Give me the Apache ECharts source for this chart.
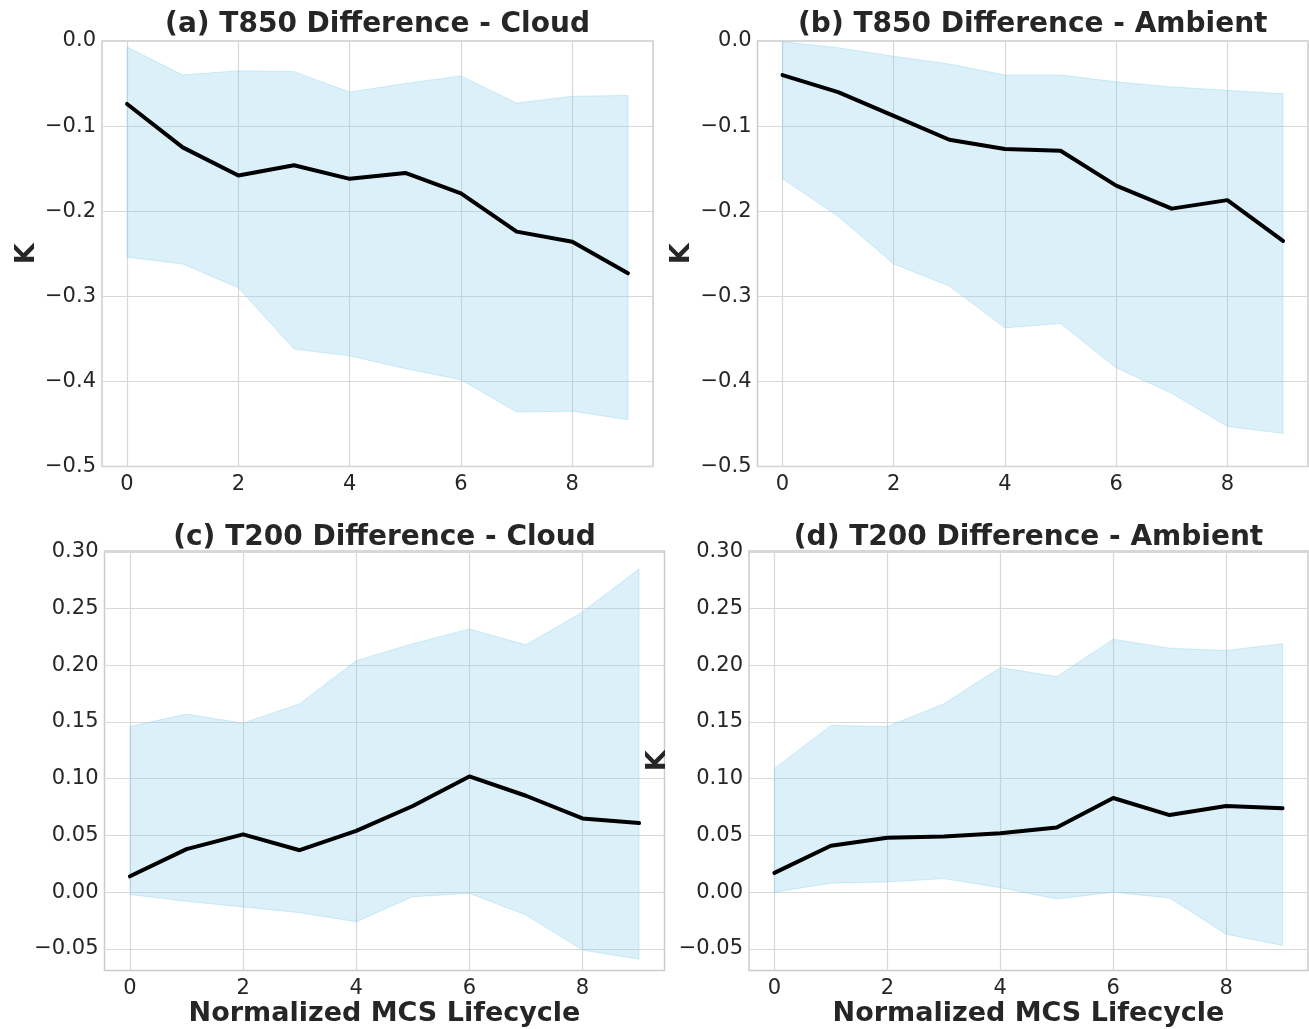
<!DOCTYPE html>
<html>
<head>
<meta charset="utf-8">
<script src="https://cdn.jsdelivr.net/npm/echarts@6/dist/echarts.min.js"></script>
<style>
  html, body { margin: 0; padding: 0; background: #ffffff; }
  #chart { width: 1309px; height: 1029px; }
</style>
</head>
<body>
<div id="chart"></div>
<script>
// Normalized lifecycle stage of the mesoscale convective systems
const lifecycle = [0, 1, 2, 3, 4, 5, 6, 7, 8, 9];
const xTicks = [0, 2, 4, 6, 8];

// (a) T850 difference inside the cloud shield
const t850CloudMean  = [-0.074, -0.125, -0.158, -0.146, -0.162, -0.155, -0.179, -0.224, -0.236, -0.273];
const t850CloudUpper = [-0.007, -0.040, -0.035, -0.036, -0.060, -0.050, -0.041, -0.073, -0.065, -0.064];
const t850CloudLower = [-0.254, -0.262, -0.290, -0.362, -0.370, -0.385, -0.398, -0.436, -0.435, -0.445];

// (b) T850 difference in the ambient environment
const t850AmbMean  = [-0.040, -0.060, -0.088, -0.116, -0.127, -0.129, -0.170, -0.197, -0.187, -0.235];
const t850AmbUpper = [-0.001, -0.008, -0.018, -0.027, -0.040, -0.040, -0.048, -0.054, -0.058, -0.062];
const t850AmbLower = [-0.162, -0.206, -0.262, -0.288, -0.337, -0.332, -0.384, -0.414, -0.453, -0.461];

// (c) T200 difference inside the cloud shield
const t200CloudMean  = [0.014, 0.038, 0.051, 0.037, 0.054, 0.076, 0.102, 0.085, 0.065, 0.061];
const t200CloudUpper = [0.146, 0.157, 0.149, 0.166, 0.204, 0.219, 0.232, 0.218, 0.247, 0.285];
const t200CloudLower = [-0.002, -0.008, -0.013, -0.018, -0.026, -0.004, -0.001, -0.020, -0.051, -0.059];

// (d) T200 difference in the ambient environment
const t200AmbMean  = [0.017, 0.041, 0.048, 0.049, 0.052, 0.057, 0.083, 0.068, 0.076, 0.074];
const t200AmbUpper = [0.109, 0.147, 0.146, 0.166, 0.198, 0.190, 0.223, 0.215, 0.213, 0.219];
const t200AmbLower = [0.000, 0.008, 0.009, 0.012, 0.004, -0.006, 0.000, -0.005, -0.037, -0.047];

// Tick values of the two kinds of vertical axes
const t850Ticks = [0.0, -0.1, -0.2, -0.3, -0.4, -0.5];
const t200Ticks = [-0.05, 0.00, 0.05, 0.10, 0.15, 0.20, 0.25, 0.30];

const FONT = "'DejaVu Sans', sans-serif";
const TEXT = '#262626';
const FILL = 'rgba(135, 206, 235, 0.3)';

const panels = [
  { title: '(a) T850 Difference - Cloud',   mean: t850CloudMean, upper: t850CloudUpper, lower: t850CloudLower,
    grid: { left: 102, top: 41, width: 551, height: 425.5 }, titleY: 24.5,
    ymin: -0.5, ymax: 0.0, ticks: t850Ticks, dec: 1, yname: 'K', xname: '' },
  { title: '(b) T850 Difference - Ambient', mean: t850AmbMean, upper: t850AmbUpper, lower: t850AmbLower,
    grid: { left: 757.5, top: 41, width: 550.5, height: 425.5 }, titleY: 24.5,
    ymin: -0.5, ymax: 0.0, ticks: t850Ticks, dec: 1, yname: 'K', xname: '' },
  { title: '(c) T200 Difference - Cloud',   mean: t200CloudMean, upper: t200CloudUpper, lower: t200CloudLower,
    grid: { left: 104.5, top: 551, width: 560, height: 419.5 }, titleY: 537.5,
    ymin: -0.069, ymax: 0.3007, ticks: t200Ticks, dec: 2, yname: '', xname: 'Normalized MCS Lifecycle' },
  { title: '(d) T200 Difference - Ambient', mean: t200AmbMean, upper: t200AmbUpper, lower: t200AmbLower,
    grid: { left: 749, top: 551, width: 559, height: 419.5 }, titleY: 537.5,
    ymin: -0.069, ymax: 0.3007, ticks: t200Ticks, dec: 2, yname: 'K', xname: 'Normalized MCS Lifecycle' }
];

function fmt(v, dec) {
  const s = Math.abs(v).toFixed(dec);
  return (v < -1e-9 ? '\u2212' : '') + s;
}

const grids = [], xAxes = [], yAxes = [], series = [], graphics = [];

panels.forEach((p, k) => {
  grids.push(Object.assign({
    show: true, borderColor: '#cccccc', borderWidth: 1.5, backgroundColor: 'transparent'
  }, p.grid));

  xAxes.push({
    type: 'value', gridIndex: k, min: -0.45, max: 9.45,
    axisLine: { show: false }, axisTick: { show: false, customValues: xTicks },
    axisLabel: { customValues: xTicks, color: TEXT, fontFamily: FONT, fontSize: 21, margin: 8,
                 formatter: v => String(v) },
    splitLine: { show: true, lineStyle: { color: '#d8d8d8', width: 1.2 } },
    name: p.xname, nameLocation: 'middle', nameGap: 30,
    nameTextStyle: { color: TEXT, fontFamily: FONT, fontSize: 27, fontWeight: 'bold' }
  });

  yAxes.push({
    type: 'value', gridIndex: k, min: p.ymin, max: p.ymax,
    axisLine: { show: false }, axisTick: { show: false, customValues: p.ticks },
    axisLabel: { customValues: p.ticks, color: TEXT, fontFamily: FONT, fontSize: 21, margin: 6,
                 formatter: v => fmt(v, p.dec) },
    splitLine: { show: true, lineStyle: { color: '#d8d8d8', width: 1.2 } },
    name: p.yname, nameLocation: 'middle', nameGap: p.dec === 1 ? 62 : 78, nameRotate: 90,
    nameTextStyle: { color: TEXT, fontFamily: FONT, fontSize: 27, fontWeight: 'bold' }
  });

  // shaded spread between lower and upper bounds
  series.push({
    type: 'custom', xAxisIndex: k, yAxisIndex: k, z: 2, silent: true,
    data: lifecycle.map((x, i) => [x, p.upper[i], p.lower[i]]),
    encode: { x: 0, y: [1, 2] },
    renderItem: (params, api) => {
      if (params.dataIndex !== 0) return { type: 'group', children: [] };
      const pts = [];
      lifecycle.forEach((x, i) => pts.push(api.coord([x, p.upper[i]])));
      for (let i = lifecycle.length - 1; i >= 0; i--) pts.push(api.coord([lifecycle[i], p.lower[i]]));
      return {
        type: 'polygon',
        shape: { points: pts },
        style: { fill: FILL, stroke: 'rgba(135, 206, 235, 0.35)', lineWidth: 1 }
      };
    }
  });

  // mean difference
  series.push({
    type: 'line', xAxisIndex: k, yAxisIndex: k, z: 3, silent: true,
    data: lifecycle.map((x, i) => [x, p.mean[i]]),
    showSymbol: false, symbol: 'none',
    lineStyle: { color: '#000000', width: 4, join: 'round', cap: 'round' }
  });

  graphics.push({
    type: 'text', x: p.grid.left + p.grid.width / 2, y: p.titleY,
    style: { text: p.title, fill: TEXT, font: `bold 28px ${FONT}`, align: 'center', verticalAlign: 'middle' }
  });
});

const chart = echarts.init(document.getElementById('chart'), null, { renderer: 'canvas' });
chart.setOption({
  backgroundColor: '#ffffff',
  animation: false,
  grid: grids,
  xAxis: xAxes,
  yAxis: yAxes,
  series: series,
  graphic: graphics
});
</script>
</body>
</html>
